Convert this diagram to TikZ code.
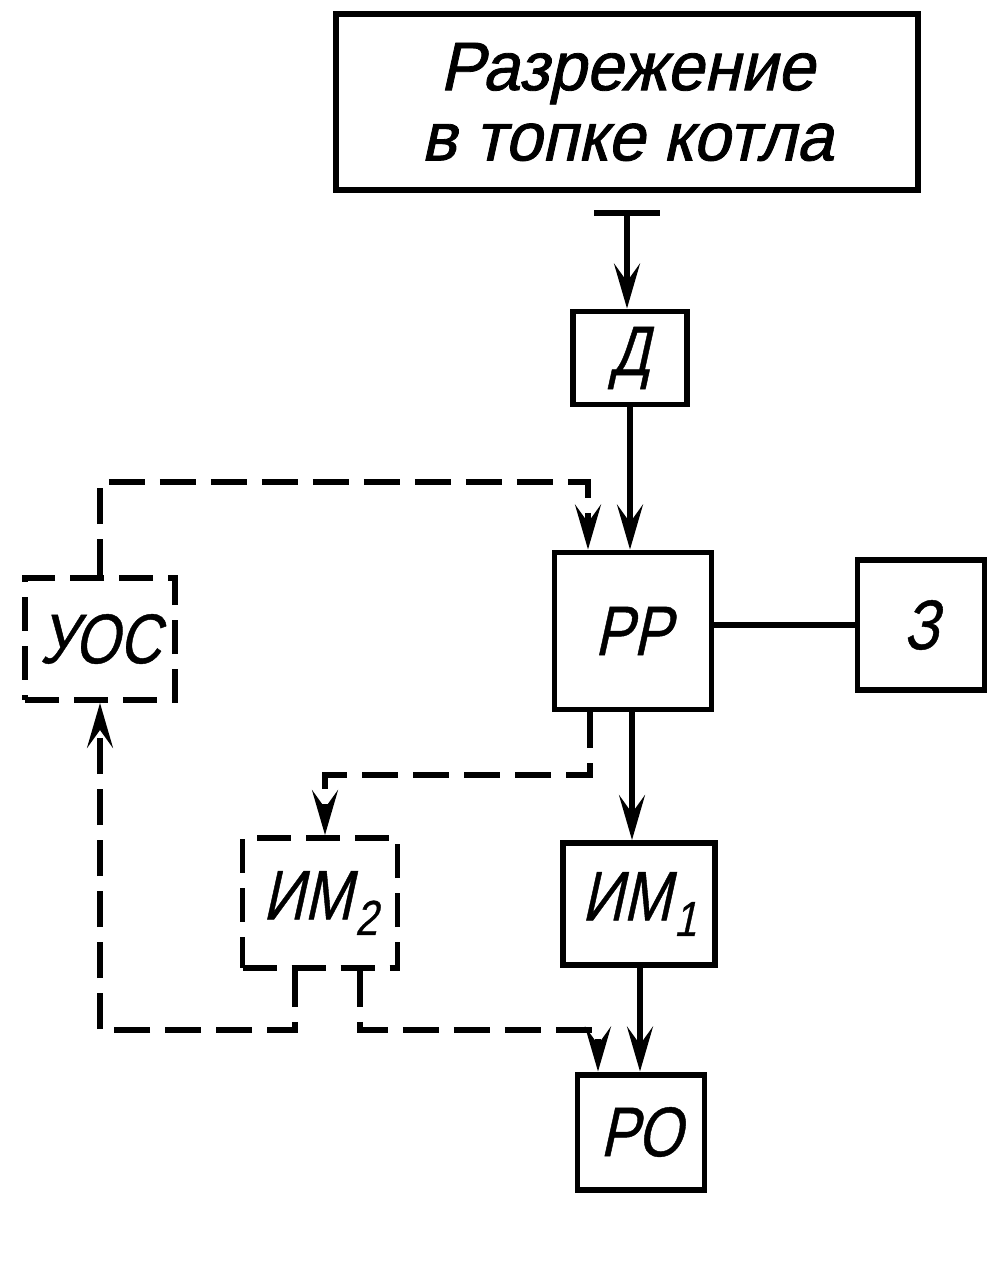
\documentclass[tikz,border=0pt]{standalone}
\usepackage{fontspec}
\setmainfont{Liberation Sans}
\newfontfamily\gost[FakeStretch=0.82,FakeSlant=0.22,FakeBold=0.6]{Liberation Sans}
\newfontfamily\gostw[FakeStretch=0.97,FakeSlant=0.22,FakeBold=1.2]{Liberation Sans}
\usetikzlibrary{arrows.meta}
\newcommand{\lowidx}[1]{\kern0.8pt\raisebox{-0.22em}{\fontsize{14}{15}\selectfont #1}}
\begin{document}
\begin{tikzpicture}[x=0.1mm,y=-0.1mm,
  blk/.style={draw,line width=1.7pt,inner sep=0pt,font=\gost\fontsize{20}{22}\selectfont},
  dblk/.style={blk,dash pattern=on 3.4mm off 1.5mm},
  conn/.style={line width=1.5pt},
  dconn/.style={conn,dash pattern=on 3.6mm off 1.5mm},
  arr/.style={-{Stealth[length=4.5mm,width=2.6mm,inset=1.8mm]}},
]
\useasboundingbox (0,0) rectangle (1000,1274);
\node[blk,minimum width=58.2mm,minimum height=17.6mm,align=center,font=\gostw\fontsize{19.5}{20}\selectfont] (top) at (627,102) {Разрежение\\в топке котла};
\node[blk,minimum width=11.4mm,minimum height=9.3mm] (D) at (630,358) {Д};
\node[blk,minimum width=15.7mm,minimum height=15.7mm] (PP) at (633,631) {РР};
\node[blk,minimum width=12.7mm,minimum height=13mm] (Z) at (921,625) {З};
\node[dblk,minimum width=15mm,minimum height=12.2mm] (UOS) at (100,639) {УОС};
\node[dblk,minimum width=15.5mm,minimum height=13mm] (IM2) at (320,903) {ИМ\lowidx{2}};
\node[blk,minimum width=15.2mm,minimum height=12.2mm] (IM1) at (639,904) {ИМ\lowidx{1}};
\node[blk,minimum width=12.7mm,minimum height=11.5mm] (RO) at (641,1132) {РО};
% input bar
\coordinate (tb) at (627,213);
\draw[conn] ([xshift=-3.3mm]tb) -- ([xshift=3.3mm]tb);
\draw[conn,arr] (tb) -- (tb |- D.north);
% D -> PP
\draw[conn,arr] (D.south) -- (D.south |- PP.north);
% PP -- Z
\draw[conn] (PP.east |- Z.west) -- (Z.west);
% UOS -> PP (dashed)
\draw[dconn,arr] (UOS.north) -- (100,482) -- (588,482) -- (588,0 |- PP.north);
% PP -> IM2 (dashed)
\draw[dconn,arr] (590,0 |- PP.south) -- (590,775) -- (325,775) -- (325,0 |- IM2.north);
% PP -> IM1
\draw[conn,arr] (632,0 |- PP.south) -- (632,0 |- IM1.north);
% IM1 -> RO
\draw[conn,arr] (640,0 |- IM1.south) -- (640,0 |- RO.north);
% IM2 -> RO (dashed)
\draw[dconn,arr] (360,0 |- IM2.south) -- (360,1030) -- (598,1030) -- (598,0 |- RO.north);
% IM2 -> UOS (dashed)
\draw[dconn,arr] (295,0 |- IM2.south) -- (295,1030) -- (100,1030) -- (UOS.south);
\end{tikzpicture}
\end{document}
